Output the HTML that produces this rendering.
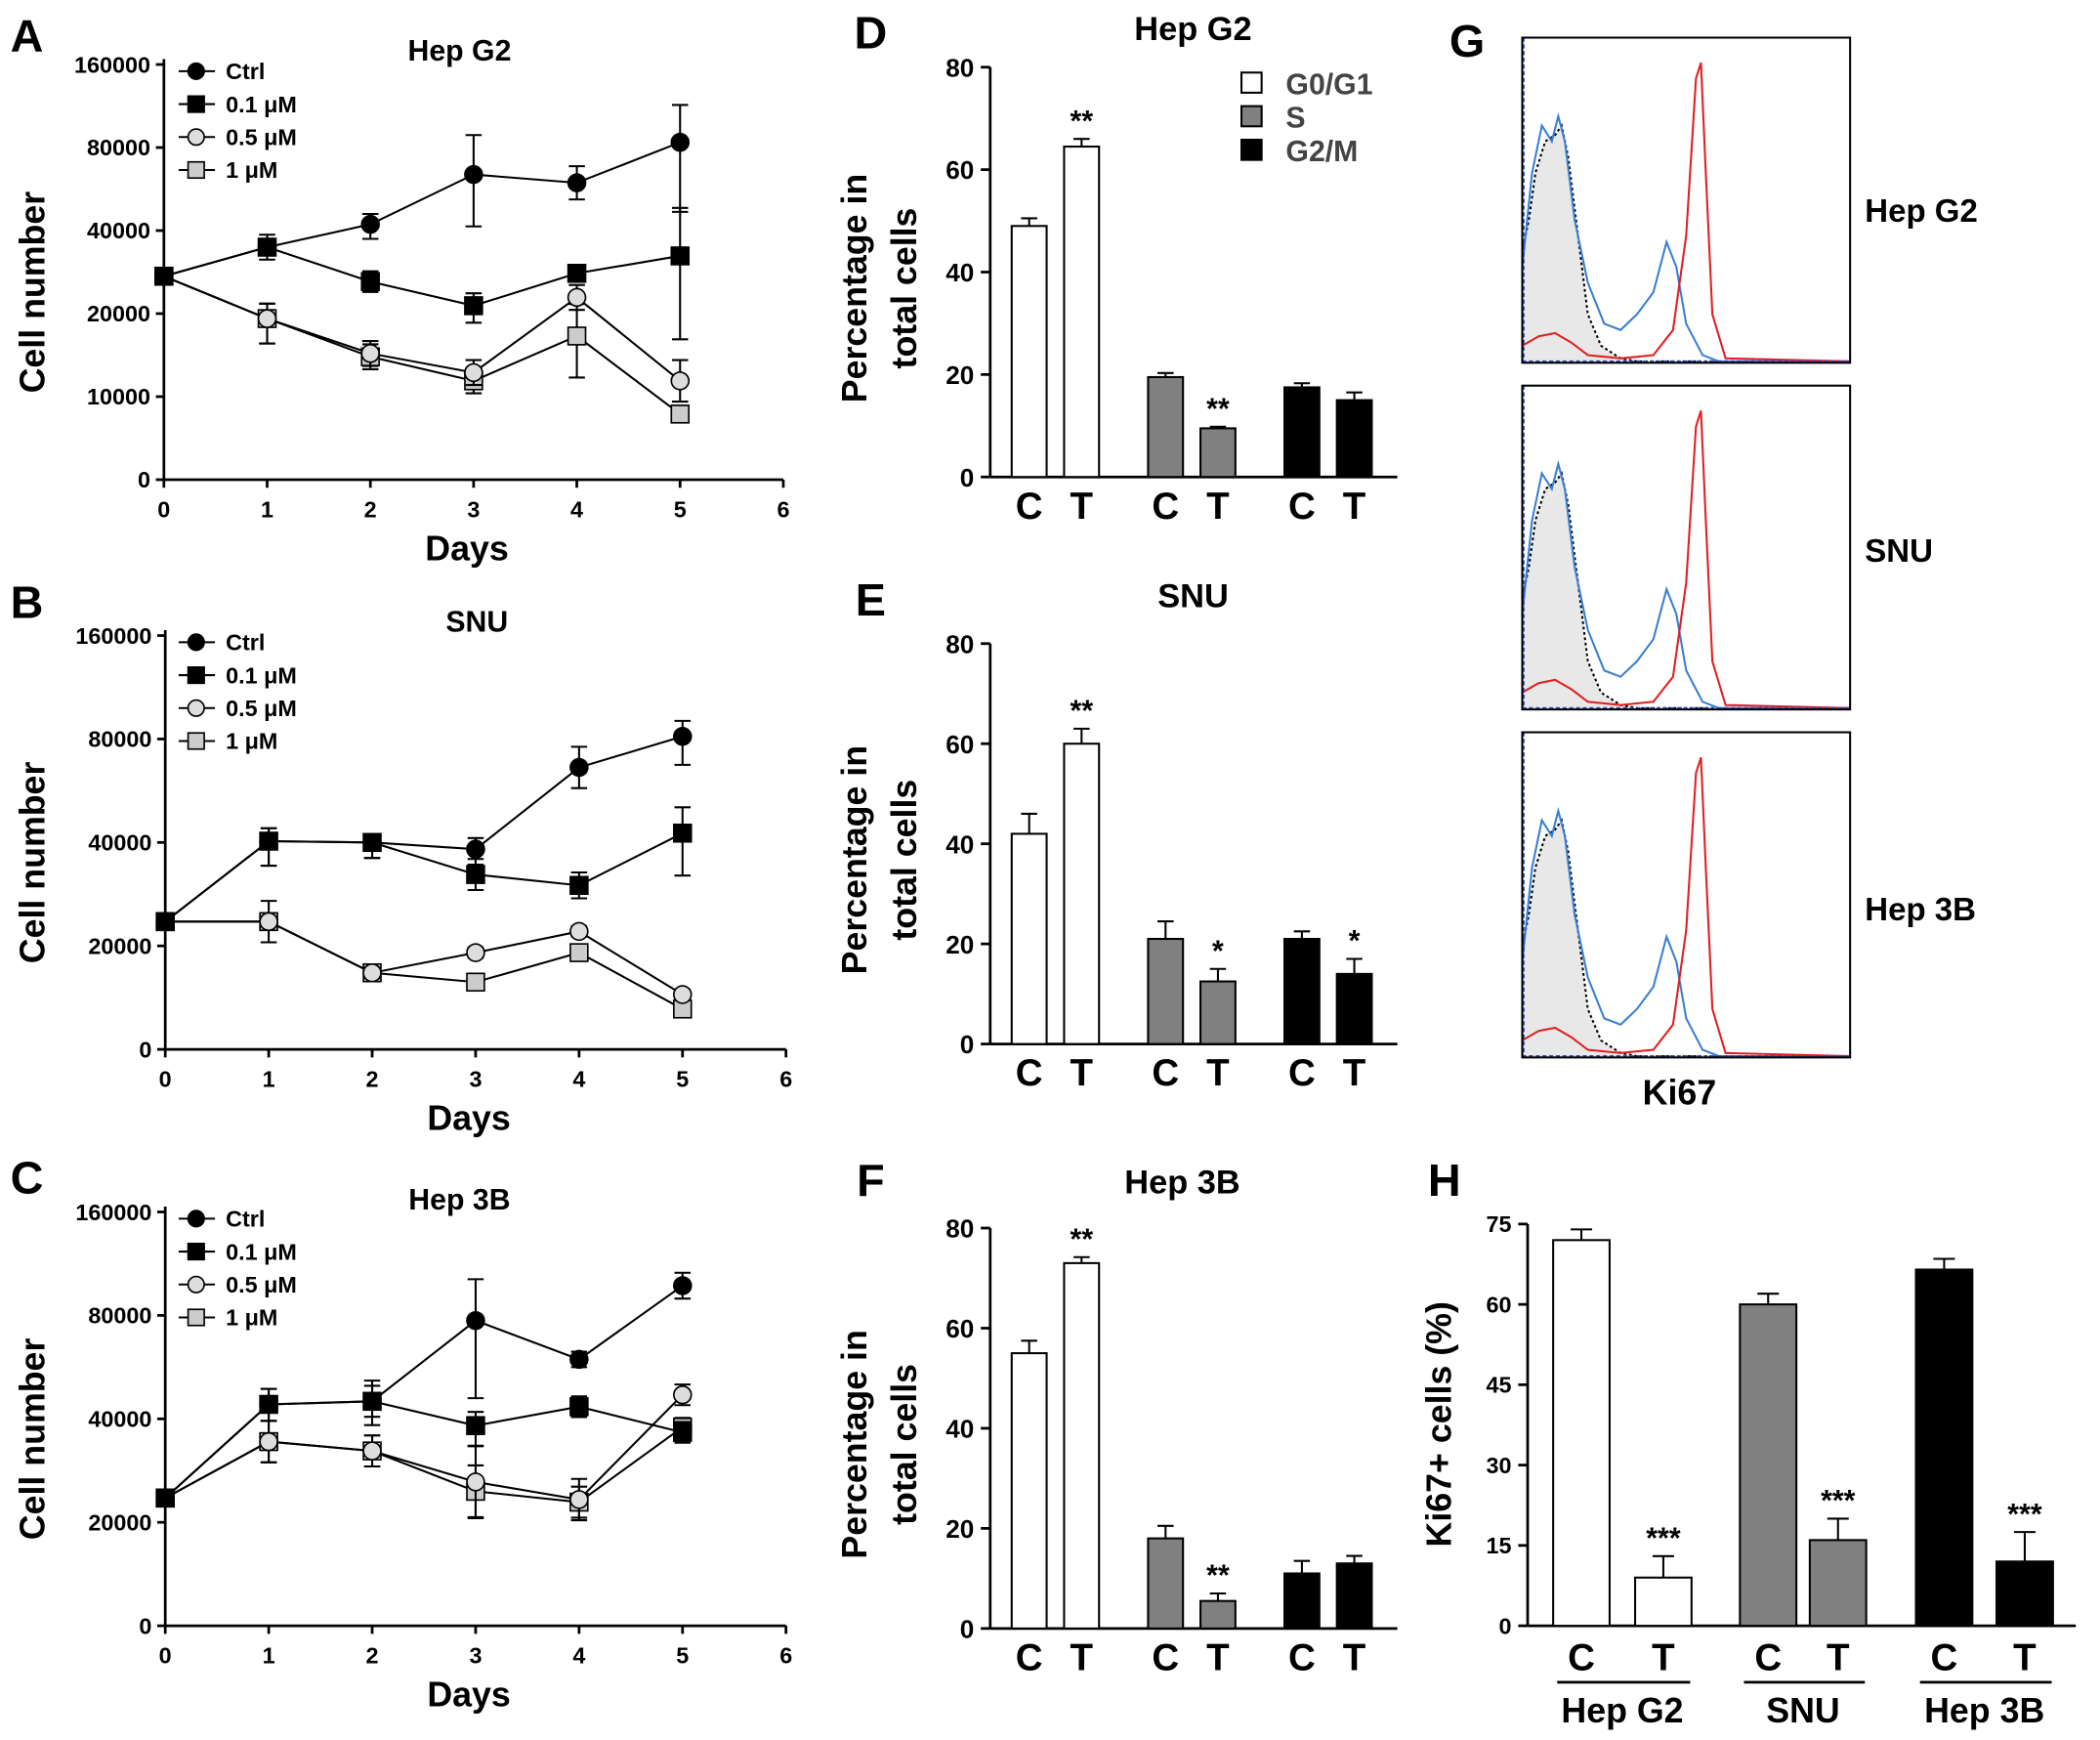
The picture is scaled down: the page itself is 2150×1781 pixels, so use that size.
<!DOCTYPE html>
<html><head><meta charset="utf-8"><style>
html,body{margin:0;padding:0;background:#fff}
svg{display:block}
text{font-family:"Liberation Sans",Arial,sans-serif;font-weight:bold;fill:#000}
</style></head><body>
<svg id="fig" xmlns="http://www.w3.org/2000/svg" width="2150" height="1781" viewBox="0 0 1563 1295" preserveAspectRatio="none">
<rect width="1563" height="1295" fill="#fff"/>
</svg>
<script>
// ---------- data ----------
const days = [0,1,2,3,4,5];
const seriesNames = ["Ctrl","0.1 μM","0.5 μM","1 μM"];
const ticksA = [0,10000,20000,40000,80000,160000];
const ticksBC = [0,20000,40000,80000,160000];
const hepg2Ctrl = [29000,36000,43000,67000,63000,85000];
const hepg2C01 = [29000,36000,27700,21900,29700,33900];
const hepg2C05 = [29000,19400,15200,12900,23900,11900];
const hepg2C1 = [29000,19400,14800,11900,17300,7900];
const hepg2CtrlErr = [0,3000,5000,25000,8000,36000];
const hepg2C01Err = [0,2000,2500,3000,2000,17000];
const hepg2C05Err = [0,3000,1500,1500,3000,2500];
const hepg2C1Err = [0,3000,1500,1500,5000,1000];
const snuCtrl = [24700,40500,40000,38700,69000,82000];
const snuC01 = [24700,40500,40000,33800,31700,43600];
const snuC05 = [24700,24700,14800,18700,22800,10600];
const snuC1 = [24700,24700,14800,13000,18700,7800];
const snuCtrlErr = [0,5000,3000,3000,8000,12000];
const snuC01Err = [0,5000,3000,3000,2500,10000];
const snuC05Err = [0,0,1000,1000,1000,1000];
const snuC1Err = [0,4000,1000,1000,1500,1000];
const hep3bCtrl = [24700,45600,46800,78000,63000,103000];
const hep3bC01 = [24700,45600,46800,38700,44700,37400];
const hep3bC05 = [24700,35600,33800,27800,24400,49300];
const hep3bC1 = [24700,35600,33800,26000,23900,38400];
const hep3bCtrlErr = [0,6000,8000,30000,3000,10000];
const hep3bC01Err = [0,6000,6000,4000,4000,2000];
const hep3bC05Err = [0,4000,3000,7000,4000,4000];
const hep3bC1Err = [0,4000,3000,5000,3000,2000];

const phases = ["G0/G1","S","G2/M"];
const dCtrl = [49,19.5,17.5], dTrt = [64.5,9.5,15], dCtrlErr=[1.5,0.8,0.8], dTrtErr=[1.5,0.3,1.5], dStars=["**","**",""];
const eCtrl = [42,21,21], eTrt = [60,12.5,14], eCtrlErr=[4,3.5,1.5], eTrtErr=[3,2.5,3], eStars=["**","*","*"];
const fCtrl = [55,18,11], fTrt = [73,5.5,13], fCtrlErr=[2.5,2.5,2.5], fTrtErr=[1.2,1.5,1.5], fStars=["**","**",""];
const pctTicks = [0,20,40,60,80];

const kiLines = ["Hep G2","SNU","Hep 3B"];
const kiCtrl = [72,60,66.5], kiTrt = [9,16,12], kiCtrlErr=[2,2,2], kiTrtErr=[4,4,5.5];
const kiTicks = [0,15,30,45,60,75];

const histIsoX = [0,0.02,0.04,0.07,0.1,0.12,0.14,0.17,0.2,0.24,0.3,0.35,1];
const histIsoH = [0.35,0.45,0.6,0.7,0.72,0.75,0.65,0.4,0.15,0.05,0.01,0,0];
const histBlueX = [0,0.03,0.06,0.09,0.11,0.13,0.16,0.2,0.25,0.3,0.35,0.4,0.44,0.47,0.5,0.55,0.6,1];
const histBlueH = [0.3,0.6,0.75,0.7,0.78,0.7,0.45,0.25,0.12,0.1,0.15,0.22,0.38,0.3,0.12,0.02,0,0];
const histRedX = [0,0.05,0.1,0.15,0.2,0.3,0.4,0.46,0.5,0.53,0.545,0.56,0.58,0.62,1];
const histRedH = [0.05,0.08,0.09,0.06,0.02,0.01,0.02,0.1,0.4,0.9,0.95,0.6,0.15,0.01,0];

// ---------- helpers ----------
const svg = document.getElementById('fig');
const NS = "http://www.w3.org/2000/svg";
function mk(tag, attrs, parent){ const e=document.createElementNS(NS,tag); for(const k in attrs) e.setAttribute(k,attrs[k]); (parent||svg).appendChild(e); return e; }
function txt(s,x,y,size,anchor,parent,extra){ const t=mk('text',Object.assign({x:x,y:y,'font-size':size,'text-anchor':anchor||'middle'},extra||{}),parent); t.textContent=s; return t; }
function grp(name){ const g=mk('g',{});   return g; }
function pieceY(ticks,y0,yTop){ const step=(y0-yTop)/(ticks.length-1); return v=>{ for(let i=0;i<ticks.length-1;i++){ if(v<=ticks[i+1]||i===ticks.length-2) return y0-step*(i+(v-ticks[i])/(ticks[i+1]-ticks[i])); } }; }

function letter(s,x,y){ const t=txt(s,x,y,34,'middle');   }

// ---------- line panels ----------
function linePanel(id,title,titleX,titleY,x0,x6,y0,yTop,ticks,vals,errs){
  const g=grp('growth-chart-'+id);
  const X=d=>x0+(x6-x0)*d/6, Y=pieceY(ticks,y0,yTop);
  mk('line',{x1:x0,y1:yTop-4,x2:x0,y2:y0,stroke:'#000','stroke-width':2},g);
  mk('line',{x1:x0,y1:y0,x2:x6,y2:y0,stroke:'#000','stroke-width':2},g);
  ticks.forEach(t=>{ const y=Y(t); mk('line',{x1:x0-6,y1:y,x2:x0,y2:y,stroke:'#000','stroke-width':2},g); const l=txt(String(t),x0-10,y+6,17,'end',g);   });
  for(let d=0;d<=6;d++){ mk('line',{x1:X(d),y1:y0,x2:X(d),y2:y0+6,stroke:'#000','stroke-width':2},g); const l=txt(String(d),X(d),y0+28,17,'middle',g);   }
  const tt=txt(title,titleX,titleY,22,'middle',g);  
  const xt=txt('Days',(x0+x6)/2-5,y0+60,26,'middle',g);  
  const cy=(y0+yTop)/2+15;
  const yt=txt('Cell number',33,cy,26,'middle',g,{transform:'rotate(-90 33 '+cy+')'});  
  const fills=['#000','#000','#ddd','#ccc'], shapes=['c','s','c','s'];
  for(let s=3;s>=0;s--){
    const sg=mk('g',{},g);
    
    
    const pts=days.map((d,i)=>X(d)+','+Y(vals[s][i])).join(' ');
    mk('polyline',{points:pts,fill:'none',stroke:'#000','stroke-width':1.5},sg);
    days.forEach((d,i)=>{
      const v=vals[s][i], e=errs[s][i], x=X(d);
      if(e>0){ const yu=Y(v+e), yl=Y(Math.max(0,v-e)); mk('line',{x1:x,y1:yu,x2:x,y2:yl,stroke:'#000','stroke-width':1.5},sg); mk('line',{x1:x-6,y1:yu,x2:x+6,y2:yu,stroke:'#000','stroke-width':1.5},sg); mk('line',{x1:x-6,y1:yl,x2:x+6,y2:yl,stroke:'#000','stroke-width':1.5},sg); }
      const y=Y(v);
      let m;
      if(shapes[s]==='c') m=mk('circle',{cx:x,cy:y,r:6.5,fill:fills[s],stroke:'#000','stroke-width':1.2},sg);
      else m=mk('rect',{x:x-6.5,y:y-6.5,width:13,height:13,fill:fills[s],stroke:'#000','stroke-width':1.2},sg);
      
      
    });
  }
  // legend
  const lg=mk('g',{},g);  
  seriesNames.forEach((n,i)=>{
    const ly=yTop+5+i*24.5;
    const e=mk('g',{},lg);  
    mk('line',{x1:133,y1:ly,x2:160,y2:ly,stroke:'#000','stroke-width':1.5},e);
    if(shapes[i]==='c') mk('circle',{cx:146,cy:ly,r:6,fill:fills[i],stroke:'#000','stroke-width':1.2},e);
    else mk('rect',{x:140,y:ly-6,width:12,height:12,fill:fills[i],stroke:'#000','stroke-width':1.2},e);
    txt(n,168,ly+6,17,'start',e);
  });
}
letter('A',20,38); letter('B',20,460); letter('C',20,888);
linePanel('hep-g2','Hep  G2',342,45,122,583,357,48,ticksA,[hepg2Ctrl,hepg2C01,hepg2C05,hepg2C1],[hepg2CtrlErr,hepg2C01Err,hepg2C05Err,hepg2C1Err]);
linePanel('snu','SNU',355,470,123,585,781,473,ticksBC,[snuCtrl,snuC01,snuC05,snuC1],[snuCtrlErr,snuC01Err,snuC05Err,snuC1Err]);
linePanel('hep-3b','Hep 3B',342,900,123,585,1210,902,ticksBC,[hep3bCtrl,hep3bC01,hep3bC05,hep3bC1],[hep3bCtrlErr,hep3bC01Err,hep3bC05Err,hep3bC1Err]);

// ---------- cell-cycle bar panels ----------
const phaseFill=['#fff','#808080','#000'];
function barPanel(id,title,titleX,titleY,y0,yTop,ctrl,trt,ce,te,stars,legend){
  const g=grp('cell-cycle-chart-'+id);
  const ax=737, Y=v=>y0-(y0-yTop)*v/80;
  mk('line',{x1:ax,y1:yTop,x2:ax,y2:y0,stroke:'#000','stroke-width':2},g);
  mk('line',{x1:ax,y1:y0,x2:1040,y2:y0,stroke:'#000','stroke-width':2},g);
  pctTicks.forEach(t=>{ mk('line',{x1:ax-7,y1:Y(t),x2:ax,y2:Y(t),stroke:'#000','stroke-width':2},g); const l=txt(String(t),ax-12,Y(t)+7,19,'end',g);   });
  const tt=txt(title,titleX,titleY,25,'middle',g);  
  const cy=(y0+yTop)/2+12;
  const y1=txt('Percentage in',645,cy,26,'middle',g,{transform:'rotate(-90 645 '+cy+')'});  
  const y2=txt('total cells',682,cy,26,'middle',g,{transform:'rotate(-90 682 '+cy+')'});  
  const gx=[785.5,887,988.5], w=26, off=19.5;
  phases.forEach((p,i)=>{
    [[ctrl[i],ce[i],-off,'C'],[trt[i],te[i],off,'T']].forEach(([v,e,o,lab])=>{
      const cx=gx[i]+o;
      mk('line',{x1:cx,y1:Y(v+e),x2:cx,y2:Y(v),stroke:'#000','stroke-width':1.5},g);
      mk('line',{x1:cx-6,y1:Y(v+e),x2:cx+6,y2:Y(v+e),stroke:'#000','stroke-width':1.5},g);
      const b=mk('rect',{x:cx-w/2,y:Y(v),width:w,height:y0-Y(v),fill:phaseFill[i],stroke:'#000','stroke-width':1.5},g);
      
      
      const l=txt(lab,cx,y0+31,28,'middle',g);  
    });
    if(stars[i]){ const s=txt(stars[i],gx[i]+off,Y(trt[i]+te[i])-6,22,'middle',g);   }
  });
  if(legend){
    const lg=mk('g',{},g);  
    phases.forEach((p,i)=>{
      const e=mk('g',{},lg);  
      mk('rect',{x:924,y:54+i*25,width:15,height:15,fill:phaseFill[i],stroke:'#000','stroke-width':1.5},e);
      txt(p,957,70+i*25,22,'start',e,{'font-weight':'normal',style:'fill:#444'});
    });
  }
}
letter('D',648,36); letter('E',648,458); letter('F',648,890);
barPanel('hep-g2','Hep G2',888,30,355,50,dCtrl,dTrt,dCtrlErr,dTrtErr,dStars,true);
barPanel('snu','SNU',888,452,777,479,eCtrl,eTrt,eCtrlErr,eTrtErr,eStars,false);
barPanel('hep-3b','Hep 3B',880,888,1212,914,fCtrl,fTrt,fCtrlErr,fTrtErr,fStars,false);

// ---------- G: flow histograms ----------
letter('G',1092,42);
const boxes=[[28,270,'Hep G2',165],[287,528,'SNU',418],[545,787,'Hep 3B',685]];
boxes.forEach(([t,b,lab,ly],k)=>{
  const g=grp('flow-histogram-'+lab.replace(' ','-').toLowerCase());
  const x0=1133,x1=1377,W=x1-x0,H=b-t-8;
  const P=(xs,hs)=>xs.map((x,i)=>(x0+x*W).toFixed(1)+','+(b-1-hs[i]*H).toFixed(1)).join(' L');
  mk('path',{d:'M'+x0+','+b+' L'+P(histIsoX,histIsoH)+' L'+x1+','+b+'Z',fill:'#e8e8e8',stroke:'none'},g);
  const iso=mk('path',{d:'M'+P(histIsoX,histIsoH),fill:'none',stroke:'#000','stroke-width':1.5,'stroke-dasharray':'2,2'},g);
   
  const bl=mk('path',{d:'M'+P(histBlueX,histBlueH),fill:'none',stroke:'#3a7fd0','stroke-width':1.5},g);
   
  const rd=mk('path',{d:'M'+P(histRedX,histRedH),fill:'none',stroke:'#e02020','stroke-width':1.5},g);
   
  mk('line',{x1:x0,y1:b-1,x2:x1,y2:b-1,stroke:'#3050c0','stroke-width':1.5,'stroke-dasharray':'3,2'},g);
  mk('line',{x1:x0+1,y1:t,x2:x0+1,y2:b,stroke:'#3050c0','stroke-width':1.5,'stroke-dasharray':'3,2'},g);
  mk('rect',{x:x0,y:t,width:W,height:b-t,fill:'none',stroke:'#000','stroke-width':1.5},g);
  const l=txt(lab,1388,ly,24,'start',g);  
});
const ki=txt('Ki67',1250,822,26,'middle');  

// ---------- H: Ki67 bar chart ----------
letter('H',1075,890);
(function(){
  const g=grp('ki67-chart');
  const ax=1137,y0=1210,yTop=911,Y=v=>y0-(y0-yTop)*v/75;
  mk('line',{x1:ax,y1:yTop,x2:ax,y2:y0,stroke:'#000','stroke-width':2},g);
  mk('line',{x1:ax,y1:y0,x2:1545,y2:y0,stroke:'#000','stroke-width':2},g);
  kiTicks.forEach(t=>{ mk('line',{x1:ax-7,y1:Y(t),x2:ax,y2:Y(t),stroke:'#000','stroke-width':2},g); const l=txt(String(t),ax-12,Y(t)+6,17,'end',g);   });
  const cy=1060;
  const yt=txt('Ki67+ cells (%)',1080,cy,26,'middle',g,{transform:'rotate(-90 1080 '+cy+')'});  
  const cxs=[[1177,1238],[1316,1368],[1447,1507]], w=42, fl=['#fff','#808080','#000'];
  kiLines.forEach((n,i)=>{
    [[kiCtrl[i],kiCtrlErr[i],cxs[i][0],'C'],[kiTrt[i],kiTrtErr[i],cxs[i][1],'T']].forEach(([v,e,cx,lab])=>{
      mk('line',{x1:cx,y1:Y(v+e),x2:cx,y2:Y(v),stroke:'#000','stroke-width':1.5},g);
      mk('line',{x1:cx-8,y1:Y(v+e),x2:cx+8,y2:Y(v+e),stroke:'#000','stroke-width':1.5},g);
      const b=mk('rect',{x:cx-w/2,y:Y(v),width:w,height:y0-Y(v),fill:fl[i],stroke:'#000','stroke-width':1.5},g);
      
      
      const l=txt(lab,cx,1243,28,'middle',g);  
      if(lab==='T'){ const s=txt('***',cx,Y(v+e)-6,22,'middle',g);   }
    });
    const mx=(cxs[i][0]+cxs[i][1])/2;
    mk('line',{x1:cxs[i][0]-18,y1:1252,x2:cxs[i][1]+20,y2:1252,stroke:'#000','stroke-width':2},g);
    const gl=txt(n,mx,1282,26,'middle',g);  
  });
})();
</script>
</body></html>
